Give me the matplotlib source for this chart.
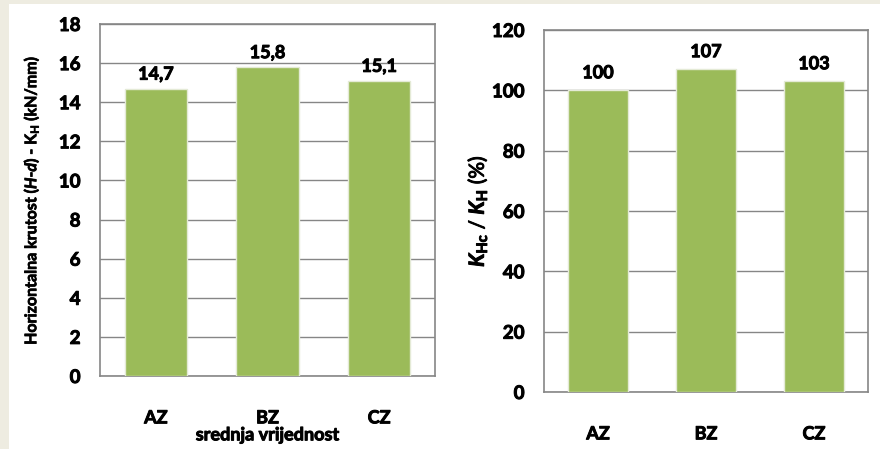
import matplotlib.pyplot as plt
from matplotlib.patches import Rectangle
from matplotlib import font_manager as fm
from matplotlib import patheffects as pe

plt.rcParams['font.family'] = ['Lato', 'DejaVu Sans']
plt.rcParams['font.weight'] = 'bold'
plt.rcParams['mathtext.fontset'] = 'custom'
plt.rcParams['mathtext.rm'] = 'Lato:bold'
plt.rcParams['mathtext.bf'] = 'Lato:bold'
plt.rcParams['mathtext.it'] = 'Lato:italic:bold'

bold_path = fm.findfont(fm.FontProperties(family='Lato', weight='bold'))
thick = [pe.withStroke(linewidth=0.7, foreground='black')]


def bf(size):
    return fm.FontProperties(fname=bold_path, size=size)


categories = ['AZ', 'BZ', 'CZ']
krutost = [14.7, 15.8, 15.1]
krutost_labels = ['14,7', '15,8', '15,1']
omjer = [100, 107, 103]
omjer_labels = ['100', '107', '103']

green = '#9BBB59'
gridc = '#868686'

fig = plt.figure(figsize=(8.8, 4.49), dpi=100, facecolor='#EEECE1')
# white panel
fig.patches.append(Rectangle((9 / 880, 0), 1, 1 - 4 / 449, transform=fig.transFigure,
                             facecolor='white', edgecolor='none', zorder=-5))

ax1 = fig.add_axes([100 / 880, 1 - 376 / 449, 335 / 880, 352 / 449])
ax2 = fig.add_axes([544 / 880, 1 - 392 / 449, 324 / 880, 362 / 449])


def style(ax, ymax, step):
    ax.set_xlim(-0.5, 2.5)
    ax.set_ylim(0, ymax)
    ticks = list(range(0, ymax + 1, step))
    ax.set_yticks(ticks)
    ax.set_yticklabels([str(t) for t in ticks], fontproperties=bf(13.5))
    ax.set_xticks(range(3))
    ax.set_xticklabels(categories, fontproperties=bf(13))
    for lb in ax.get_xticklabels() + ax.get_yticklabels():
        lb.set_path_effects(thick)
    ax.set_facecolor('white')
    ax.grid(axis='y', color=gridc, linewidth=1.0)
    ax.set_axisbelow(True)
    for s in ax.spines.values():
        s.set_color(gridc)
        s.set_linewidth(1.2)
    ax.tick_params(axis='both', length=0)
    ax.tick_params(axis='y', pad=14)
    ax.tick_params(axis='x', pad=24)


# left chart
ax1.bar(range(3), krutost, width=0.56, color=green, edgecolor='#E4EAD6', linewidth=1.0, zorder=3)
style(ax1, 18, 2)
for i, v in enumerate(krutost):
    ax1.text(i, v + 0.3, krutost_labels[i], ha='center', va='bottom', fontproperties=bf(13),
             path_effects=thick)
ax1.set_ylabel(r'Horizontalna krutost ($\mathit{H}$-$\mathit{d}$) - K$_\mathrm{H}$ (kN/mm)',
               fontproperties=bf(11.5), labelpad=13,
               path_effects=[pe.withStroke(linewidth=0.5, foreground='black')])
ax1.set_xlabel('srednja vrijednost', fontproperties=bf(13), labelpad=0, path_effects=thick)

# right chart
ax2.bar(range(3), omjer, width=0.56, color=green, edgecolor='#E4EAD6', linewidth=1.0, zorder=3)
style(ax2, 120, 20)
for i, v in enumerate(omjer):
    ax2.text(i, v + 3, omjer_labels[i], ha='center', va='bottom', fontproperties=bf(13),
             path_effects=thick)
ax2.set_ylabel(r'$\mathit{K}_\mathrm{Hc}$ / $\mathit{K}_\mathrm{H}$ (%)', fontsize=15, labelpad=2,
               path_effects=thick)

fig.savefig('out.png', dpi=100, facecolor=fig.get_facecolor())
